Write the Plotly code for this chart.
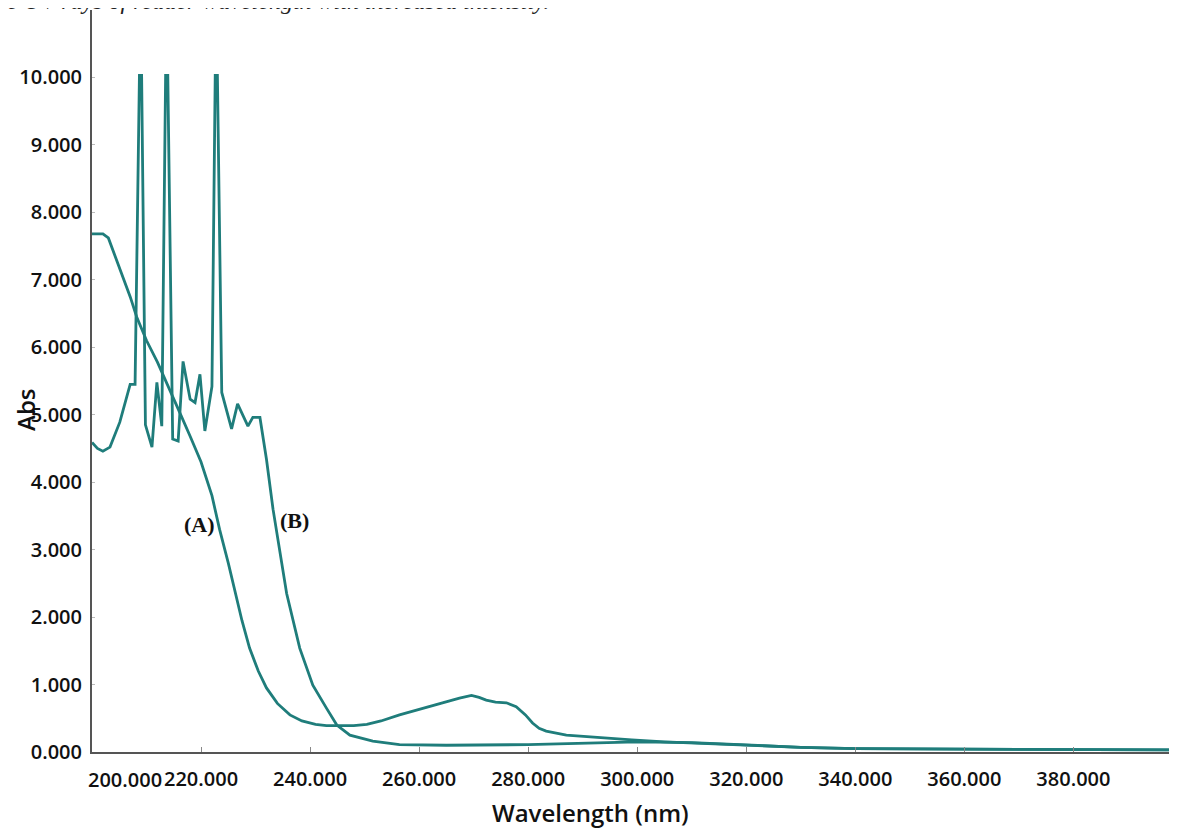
import plotly.graph_objects as go

# Curve (A)
wl_a = [200, 202, 203, 205, 207, 208.2, 210, 212, 213.7, 216, 218, 220, 222, 223.4, 225, 226.2,
        227.5, 228.9, 230.5, 232, 234, 236.3, 238.5, 241, 243, 245, 248, 250.4, 253, 256.4,
        259.5, 262.5, 265, 267.4, 269.6, 271, 272.3, 274, 276, 277.8, 279.5, 280.8, 282, 283.3,
        287, 293, 299, 305, 311, 320, 330, 340, 360, 380, 399]
abs_a = [7.68, 7.68, 7.62, 7.2, 6.75, 6.45, 6.1, 5.78, 5.48, 5.05, 4.68, 4.3, 3.8, 3.3, 2.8, 2.4,
         1.95, 1.54, 1.2, 0.95, 0.72, 0.55, 0.46, 0.41, 0.39, 0.39, 0.39, 0.41, 0.46, 0.55,
         0.62, 0.69, 0.75, 0.80, 0.84, 0.81, 0.77, 0.74, 0.73, 0.67, 0.55, 0.43, 0.35, 0.31,
         0.25, 0.21, 0.18, 0.15, 0.13, 0.10, 0.07, 0.05, 0.04, 0.04, 0.03]

# Curve (B)
wl_b = [200, 201, 202, 203.3, 205.1, 207, 207.9, 208.7, 209.1, 209.8, 211.0, 211.9, 212.8, 213.5,
        213.9, 214.8, 215.8, 216.7, 218.0, 218.9, 219.8, 220.7, 222.0, 222.6, 223.0, 223.8,
        225.6, 226.7, 228.6, 229.5, 230.8, 232.0, 233.2, 234.4, 235.7, 238.1, 240.5, 243.0,
        244.9, 247.3, 251.5, 256.4, 265, 280, 290, 300, 310, 320, 330, 340, 360, 380, 399]
abs_b = [4.59, 4.5, 4.46, 4.52, 4.89, 5.45, 5.45, 10.03, 10.03, 4.85, 4.52, 5.48, 4.83, 10.03,
         10.03, 4.64, 4.61, 5.79, 5.23, 5.18, 5.6, 4.76, 5.42, 10.03, 10.03, 5.33,
         4.79, 5.16, 4.83, 4.96, 4.96, 4.34, 3.6, 3.01, 2.35, 1.54, 0.99, 0.65,
         0.40, 0.25, 0.16, 0.11, 0.10, 0.11, 0.13, 0.15, 0.14, 0.10, 0.07, 0.05, 0.04, 0.04, 0.03]

x_ticks = [200, 220, 240, 260, 280, 300, 320, 340, 360, 380]
x_ticktext = ["", "220.000", "240.000", "260.000", "280.000", "300.000", "320.000",
              "340.000", "360.000", "380.000"]
y_ticks = [0, 1, 2, 3, 4, 5, 6, 7, 8, 9, 10]

teal = "#1f7d7b"
tickfont = dict(family="Open Sans", size=20, color="#111", weight=600)

fig = go.Figure()
fig.add_trace(go.Scatter(x=wl_a, y=abs_a, mode="lines", line=dict(color=teal, width=2.8)))
fig.add_trace(go.Scatter(x=wl_b, y=abs_b, mode="lines", line=dict(color=teal, width=2.8)))

fig.update_layout(
    width=1169, height=827,
    margin=dict(l=84, r=0, t=2, b=83),
    paper_bgcolor="white", plot_bgcolor="white",
    showlegend=False,
    xaxis=dict(range=[200, 399], tickvals=x_ticks, ticktext=x_ticktext, tickfont=tickfont,
               showgrid=False, zeroline=False, showline=True, linecolor="#555", linewidth=2,
               ticks="inside", ticklen=5, tickcolor="#888", ticklabelstandoff=8),
    yaxis=dict(range=[0, 11], tickvals=y_ticks, tickformat=".3f", tickfont=tickfont,
               showgrid=False, zeroline=False, showline=True, linecolor="#555", linewidth=2,
               ticks="inside", ticklen=3, tickcolor="#bbb", ticklabelstandoff=4),
)

ann = [
    dict(text="200.000", x=0, xref="paper", y=0, yref="paper", xshift=33, yshift=-27,
         showarrow=False, font=tickfont, xanchor="center", yanchor="middle"),
    dict(text="Abs", x=0, xref="paper", y=0.461, yref="paper", xshift=-66, textangle=-90,
         showarrow=False, font=dict(family="Open Sans", size=24, color="#111", weight=600),
         xanchor="center", yanchor="middle"),
    dict(text="Wavelength (nm)", x=0.459, xref="paper", y=0, yref="paper", yshift=-60,
         showarrow=False, font=dict(family="Open Sans", size=24, color="#111", weight=600),
         xanchor="center", yanchor="middle"),
    dict(text="(A)", x=219.8, y=3.38, showarrow=False,
         font=dict(family="Liberation Serif", size=22, color="#111", weight="bold")),
    dict(text="(B)", x=237.2, y=3.43, showarrow=False,
         font=dict(family="Liberation Serif", size=22, color="#111", weight="bold")),
    dict(text="e UV rays of redder wavelength with increased intensity.", x=0, xref="paper",
         y=1, yref="paper", xshift=-87, yshift=-6, xanchor="left", yanchor="bottom",
         showarrow=False,
         font=dict(family="Liberation Serif", size=24, color="#222", style="italic")),
]
fig.update_layout(annotations=ann)

fig.write_html("out.html")
